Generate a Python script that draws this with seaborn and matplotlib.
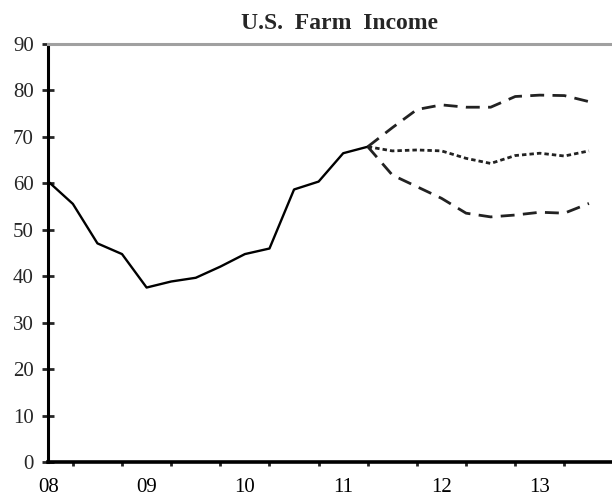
import numpy as np
import pandas as pd
import matplotlib
matplotlib.use("Agg")
import matplotlib.pyplot as plt
import seaborn as sns
from matplotlib.ticker import FixedLocator

# -----------------------------
# DATA (quarterly, billions $)
# -----------------------------
hist_t = [2008.0, 2008.25, 2008.5, 2008.75, 2009.0, 2009.25, 2009.5, 2009.75,
          2010.0, 2010.25, 2010.5, 2010.75, 2011.0, 2011.25]
hist_v = [60.4, 55.6, 47.1, 44.8, 37.6, 38.9, 39.7, 42.1,
          44.8, 46.0, 58.7, 60.4, 66.5, 67.9]

fc_t = [2011.25, 2011.5, 2011.75, 2012.0, 2012.25, 2012.5, 2012.75,
        2013.0, 2013.25, 2013.5]
fc_high = [67.9, 72.0, 75.9, 76.9, 76.4, 76.4, 78.7, 79.0, 78.9, 77.6]
fc_mid = [67.9, 67.0, 67.2, 67.0, 65.4, 64.3, 66.0, 66.5, 65.9, 67.0]
fc_low = [67.9, 61.8, 59.3, 56.8, 53.6, 52.8, 53.2, 53.8, 53.6, 55.7]

year_ticks = [2008, 2009, 2010, 2011, 2012, 2013]
year_labels = ["08", "09", "10", "11", "12", "13"]

# -----------------------------
# STYLE
# -----------------------------
sns.set_style("white")
plt.rcParams["font.family"] = ["Liberation Serif", "DejaVu Serif"]

fig = plt.figure(figsize=(6.12, 4.99), dpi=100)
ax = fig.add_axes([48.3 / 612, 36.7 / 499, (612 - 48.3) / 612, 418.3 / 499])

hist_df = pd.DataFrame({"t": hist_t, "v": hist_v})
fc_df = pd.DataFrame({"t": fc_t, "high": fc_high, "mid": fc_mid, "low": fc_low})

sns.lineplot(data=hist_df, x="t", y="v", ax=ax, color="black", lw=1.7)
sns.lineplot(data=fc_df, x="t", y="high", ax=ax, color="#222222", lw=2.0,
             dashes=False, linestyle=(0, (5, 3)))
sns.lineplot(data=fc_df, x="t", y="low", ax=ax, color="#222222", lw=2.0,
             dashes=False, linestyle=(0, (5, 3)))
sns.lineplot(data=fc_df, x="t", y="mid", ax=ax, color="#222222", lw=2.0,
             dashes=False, linestyle=(0, (1.6, 1.1)))

ax.set_xlim(2008, 2008 + (612 - 48.3) / 98.3)
ax.set_ylim(0, 90)

# x ticks: half-year major, quarter minor
half = np.arange(2008, 2013.75, 0.5)
ax.xaxis.set_major_locator(FixedLocator(half))
ax.set_xticklabels([year_labels[year_ticks.index(int(h))] if h == int(h) else ""
                    for h in half])
ax.xaxis.set_minor_locator(FixedLocator(half + 0.25))
ax.tick_params(axis="x", which="major", direction="inout", length=10, width=2,
               labelsize=15, pad=6, colors="black")
ax.tick_params(axis="x", which="minor", direction="out", length=3, width=2,
               bottom=True)

ax.set_yticks(range(0, 91, 10))
ax.tick_params(axis="y", which="major", direction="inout", length=9, width=2,
               labelsize=15, pad=6, left=True)

ax.set_xlabel("")
ax.set_ylabel("")

ax.spines["right"].set_visible(False)
ax.spines["left"].set_linewidth(2.2)
ax.spines["left"].set_color("black")
ax.spines["bottom"].set_linewidth(2.6)
ax.spines["bottom"].set_color("black")
ax.spines["top"].set_color("#a0a0a0")
ax.spines["top"].set_linewidth(2.2)

fig.text(0.555, 0.952, "U.S.  Farm  Income", ha="center", va="center",
         fontsize=17, fontweight="bold")

fig.savefig("out.png", dpi=100)
plt.close(fig)
